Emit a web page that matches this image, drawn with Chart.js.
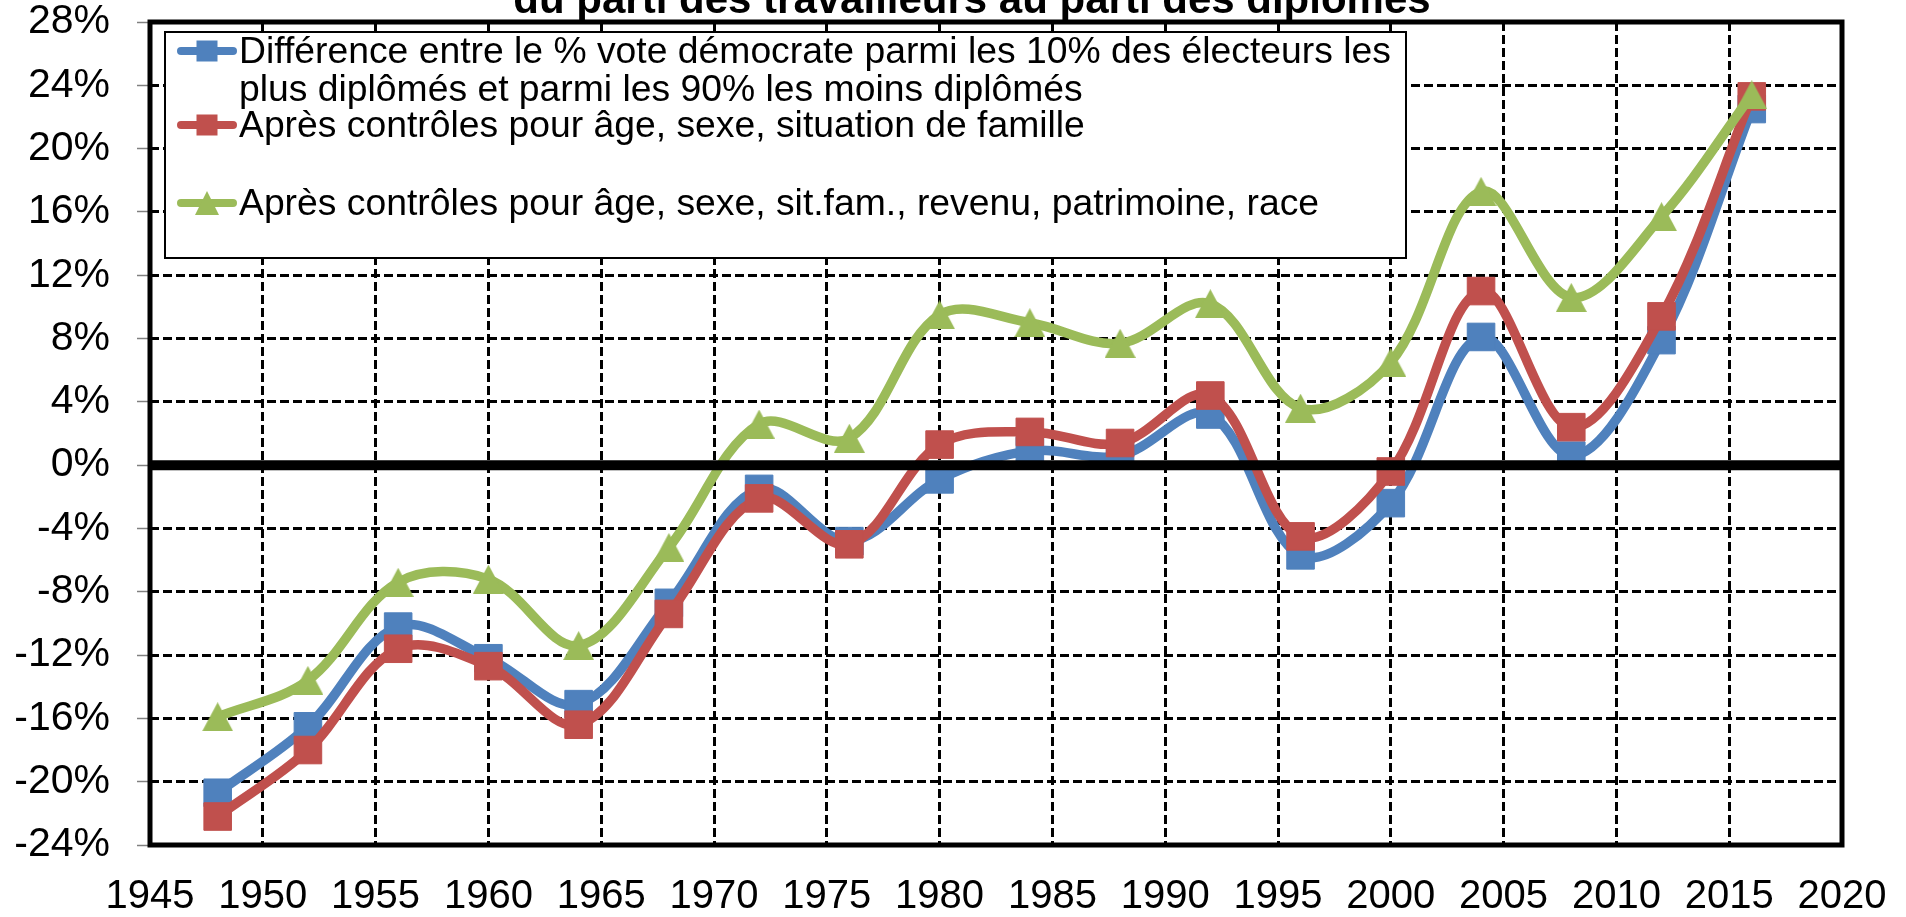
<!DOCTYPE html>
<html>
<head>
<meta charset="utf-8">
<script src="https://cdn.jsdelivr.net/npm/chart.js@4.4.0/dist/chart.umd.min.js"></script>
<style>
html, body { margin: 0; padding: 0; background: #fff; }
canvas { display: block; }
</style>
</head>
<body>
<canvas id="voteChart" width="1906" height="917"></canvas>
<script>
// election years and the three series (in % points)
var years = [1948, 1952, 1956, 1960, 1964, 1968, 1972, 1976, 1980, 1984, 1988, 1992, 1996, 2000, 2004, 2008, 2012, 2016];
var diffBrut = [-20.7, -16.5, -10.2, -12.2, -15.1, -8.7, -1.5, -4.8, -0.9, 0.9, 0.6, 3.2, -5.7, -2.4, 8.1, 0.6, 7.9, 22.5];
var diffFamille = [-22.2, -18.0, -11.6, -12.7, -16.4, -9.4, -2.1, -5.0, 1.3, 2.1, 1.4, 4.4, -4.5, -0.4, 11.0, 2.4, 9.4, 23.3];
var diffComplet = [-15.9, -13.6, -7.4, -7.2, -11.4, -5.2, 2.6, 1.7, 9.5, 9.0, 7.7, 10.2, 3.6, 6.5, 17.3, 10.6, 15.7, 23.4];

var labelBrut = ['Différence entre le % vote démocrate parmi les 10% des électeurs les', 'plus diplômés et parmi les 90% les moins diplômés'];
var labelFamille = ['Après contrôles pour âge, sexe, situation de famille'];
var labelComplet = ['Après contrôles pour âge, sexe, sit.fam., revenu, patrimoine, race'];
var titleText = 'du parti des travailleurs au parti des diplômés';

var FONT = '"Liberation Sans", Arial, sans-serif';
var BLUE = '#4F81BD', RED = '#C0504D', GREEN = '#9BBB59';

function toPoints(values) {
    return years.map(function (yr, i) { return { x: yr, y: values[i] }; });
}

function makeTriangle(w, h, color) {
    var c = document.createElement('canvas');
    c.width = w; c.height = h;
    var g = c.getContext('2d');
    g.fillStyle = color;
    g.beginPath();
    g.moveTo(w / 2, 0);
    g.lineTo(w, h);
    g.lineTo(0, h);
    g.closePath();
    g.fill();
    return c;
}
var triangleBig = makeTriangle(31, 29, GREEN);

function drawMarker(ctx, kind, x, y, color, size) {
    ctx.fillStyle = color;
    if (kind === 'rect') {
        ctx.fillRect(x - size / 2, y - size / 2, size, size);
    } else {
        ctx.beginPath();
        ctx.moveTo(x, y - size / 2);
        ctx.lineTo(x + size / 2, y + size / 2);
        ctx.lineTo(x - size / 2, y + size / 2);
        ctx.closePath();
        ctx.fill();
    }
}

var overlay = {
    id: 'overlay',
    afterDatasetsDraw: function (chart) {
        var ctx = chart.ctx, a = chart.chartArea;
        var y0 = chart.scales.y.getPixelForValue(0);
        ctx.save();
        ctx.setLineDash([]);
        ctx.strokeStyle = '#000';
        ctx.lineWidth = 10;
        ctx.beginPath();
        ctx.moveTo(a.left, y0);
        ctx.lineTo(a.right, y0);
        ctx.stroke();

        ctx.lineWidth = 5;
        ctx.strokeRect(a.left, a.top, a.right - a.left, a.bottom - a.top);

        // legend box
        var bx = a.left + 15, by = a.top + 10, bw = 1241, bh = 226;
        ctx.fillStyle = '#fff';
        ctx.fillRect(bx, by, bw, bh);
        ctx.lineWidth = 2;
        ctx.strokeRect(bx, by, bw, bh);

        var rows = [
            { lines: labelBrut, color: BLUE, kind: 'rect', y: by + 19 },
            { lines: labelFamille, color: RED, kind: 'rect', y: by + 93 },
            { lines: labelComplet, color: GREEN, kind: 'tri', y: by + 171 }
        ];
        ctx.font = '37.3px ' + FONT;
        ctx.textBaseline = 'middle';
        ctx.textAlign = 'left';
        rows.forEach(function (r) {
            ctx.strokeStyle = r.color;
            ctx.lineWidth = 8;
            ctx.lineCap = 'round';
            ctx.beginPath();
            ctx.moveTo(bx + 16, r.y);
            ctx.lineTo(bx + 68, r.y);
            ctx.stroke();
            drawMarker(ctx, r.kind, bx + 42, r.y, r.color, r.kind === 'rect' ? 21 : 24);
            ctx.fillStyle = '#000';
            r.lines.forEach(function (t, i) {
                ctx.fillText(t, bx + 74, r.y + 2 + i * 38);
            });
        });

        // title (its upper part runs off the top edge)
        ctx.font = 'bold 42px ' + FONT;
        ctx.textAlign = 'center';
        ctx.textBaseline = 'alphabetic';
        ctx.fillStyle = '#000';
        ctx.fillText(titleText, 972, 13);
        ctx.restore();
    }
};

var ctx = document.getElementById('voteChart').getContext('2d');
var voteChart = new Chart(ctx, {
    type: 'line',
    data: {
        datasets: [{
            label: labelBrut.join(' '),
            data: toPoints(diffBrut),
            borderColor: BLUE,
            backgroundColor: BLUE,
            pointStyle: 'rect',
            pointRadius: 19.5,
            pointBorderWidth: 1,
            pointBorderColor: BLUE,
            order: 3
        }, {
            label: labelFamille[0],
            data: toPoints(diffFamille),
            borderColor: RED,
            backgroundColor: RED,
            pointStyle: 'rect',
            pointRadius: 19.5,
            pointBorderWidth: 1,
            pointBorderColor: RED,
            order: 2
        }, {
            label: labelComplet[0],
            data: toPoints(diffComplet),
            borderColor: GREEN,
            backgroundColor: GREEN,
            pointStyle: triangleBig,
            pointRadius: 15,
            order: 1
        }]
    },
    options: {
        responsive: false,
        animation: false,
        events: [],
        elements: {
            line: { borderWidth: 9.5, tension: 0.35, capBezierPoints: false }
        },
        layout: { padding: { top: 22, right: 64, left: 0, bottom: 0 } },
        plugins: {
            legend: { display: false },
            tooltip: { enabled: false }
        },
        scales: {
            x: {
                type: 'linear',
                min: 1945,
                max: 2020,
                afterFit: function (s) {
                    s.height = 72;
                    s.paddingLeft = 0;
                    s.paddingRight = 0;
                },
                ticks: {
                    stepSize: 5,
                    padding: 28,
                    color: '#000',
                    font: { family: FONT, size: 40, lineHeight: 1.2 },
                    callback: function (v) { return String(v); }
                },
                grid: { color: '#000', lineWidth: 3, drawTicks: false },
                border: { display: false, dash: [9, 4] }
            },
            y: {
                min: -24,
                max: 28,
                afterFit: function (s) {
                    s.width = 150;
                    s.paddingTop = 0;
                    s.paddingBottom = 0;
                },
                ticks: {
                    stepSize: 4,
                    padding: 27,
                    color: '#000',
                    font: { family: FONT, size: 41, lineHeight: 1 },
                    callback: function (v) { return v + '%'; }
                },
                grid: {
                    color: '#000',
                    lineWidth: 3,
                    tickLength: 13,
                    tickColor: '#808080',
                    tickWidth: 1.5,
                    tickBorderDash: []
                },
                border: { display: false, dash: [9, 4] }
            }
        }
    },
    plugins: [overlay]
});
</script>
</body>
</html>
